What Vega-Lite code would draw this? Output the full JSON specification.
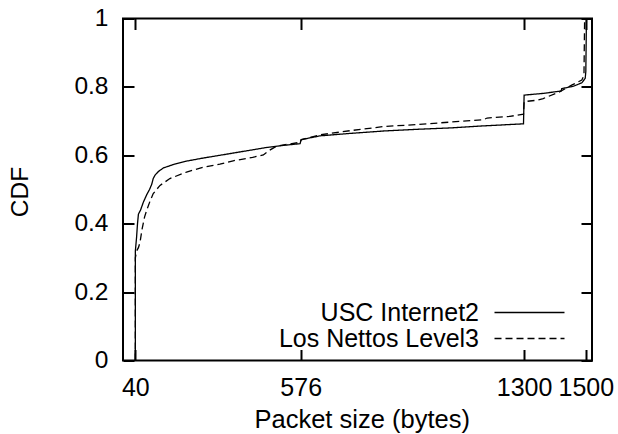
{
  "$schema": "https://vega.github.io/schema/vega-lite/v6.json",
  "width": 469,
  "height": 342,
  "autosize": {"type": "none"},
  "padding": {"left": 123, "top": 18.5, "right": 26, "bottom": 73},
  "background": "white",
  "config": {
    "view": {"stroke": "black", "strokeWidth": 2},
    "font": "Liberation Sans"
  },
  "data": {
    "values": [
      {"series": "USC Internet2", "i": 1, "size": 40, "cdf": 0},
      {"series": "USC Internet2", "i": 2, "size": 40, "cdf": 0.32},
      {"series": "USC Internet2", "i": 3, "size": 44, "cdf": 0.36},
      {"series": "USC Internet2", "i": 4, "size": 47, "cdf": 0.40},
      {"series": "USC Internet2", "i": 5, "size": 50, "cdf": 0.428},
      {"series": "USC Internet2", "i": 6, "size": 57, "cdf": 0.44},
      {"series": "USC Internet2", "i": 7, "size": 66, "cdf": 0.463},
      {"series": "USC Internet2", "i": 8, "size": 77, "cdf": 0.485},
      {"series": "USC Internet2", "i": 9, "size": 86, "cdf": 0.50},
      {"series": "USC Internet2", "i": 10, "size": 93, "cdf": 0.515},
      {"series": "USC Internet2", "i": 11, "size": 98, "cdf": 0.532},
      {"series": "USC Internet2", "i": 12, "size": 104, "cdf": 0.542},
      {"series": "USC Internet2", "i": 13, "size": 115, "cdf": 0.553},
      {"series": "USC Internet2", "i": 14, "size": 131, "cdf": 0.563},
      {"series": "USC Internet2", "i": 15, "size": 163, "cdf": 0.573},
      {"series": "USC Internet2", "i": 16, "size": 206, "cdf": 0.583},
      {"series": "USC Internet2", "i": 17, "size": 260, "cdf": 0.592},
      {"series": "USC Internet2", "i": 18, "size": 314, "cdf": 0.600},
      {"series": "USC Internet2", "i": 19, "size": 360, "cdf": 0.607},
      {"series": "USC Internet2", "i": 20, "size": 420, "cdf": 0.616},
      {"series": "USC Internet2", "i": 21, "size": 466, "cdf": 0.623},
      {"series": "USC Internet2", "i": 22, "size": 530, "cdf": 0.630},
      {"series": "USC Internet2", "i": 23, "size": 574, "cdf": 0.634},
      {"series": "USC Internet2", "i": 24, "size": 577, "cdf": 0.645},
      {"series": "USC Internet2", "i": 25, "size": 600, "cdf": 0.650},
      {"series": "USC Internet2", "i": 26, "size": 640, "cdf": 0.657},
      {"series": "USC Internet2", "i": 27, "size": 736, "cdf": 0.664},
      {"series": "USC Internet2", "i": 28, "size": 844, "cdf": 0.671},
      {"series": "USC Internet2", "i": 29, "size": 952, "cdf": 0.676},
      {"series": "USC Internet2", "i": 30, "size": 1060, "cdf": 0.680},
      {"series": "USC Internet2", "i": 31, "size": 1168, "cdf": 0.686},
      {"series": "USC Internet2", "i": 32, "size": 1298, "cdf": 0.692},
      {"series": "USC Internet2", "i": 33, "size": 1300, "cdf": 0.776},
      {"series": "USC Internet2", "i": 34, "size": 1362, "cdf": 0.781},
      {"series": "USC Internet2", "i": 35, "size": 1420, "cdf": 0.788},
      {"series": "USC Internet2", "i": 36, "size": 1422, "cdf": 0.795},
      {"series": "USC Internet2", "i": 37, "size": 1460, "cdf": 0.802},
      {"series": "USC Internet2", "i": 38, "size": 1487, "cdf": 0.812},
      {"series": "USC Internet2", "i": 39, "size": 1498, "cdf": 0.825},
      {"series": "USC Internet2", "i": 40, "size": 1500, "cdf": 0.845},
      {"series": "USC Internet2", "i": 41, "size": 1502, "cdf": 1.0},
      {"series": "Los Nettos Level3", "i": 1, "size": 40, "cdf": 0},
      {"series": "Los Nettos Level3", "i": 2, "size": 40, "cdf": 0.30},
      {"series": "Los Nettos Level3", "i": 3, "size": 44, "cdf": 0.32},
      {"series": "Los Nettos Level3", "i": 4, "size": 50, "cdf": 0.33},
      {"series": "Los Nettos Level3", "i": 5, "size": 55, "cdf": 0.345},
      {"series": "Los Nettos Level3", "i": 6, "size": 62, "cdf": 0.385},
      {"series": "Los Nettos Level3", "i": 7, "size": 70, "cdf": 0.42},
      {"series": "Los Nettos Level3", "i": 8, "size": 77, "cdf": 0.44},
      {"series": "Los Nettos Level3", "i": 9, "size": 88, "cdf": 0.467},
      {"series": "Los Nettos Level3", "i": 10, "size": 98, "cdf": 0.488},
      {"series": "Los Nettos Level3", "i": 11, "size": 120, "cdf": 0.512},
      {"series": "Los Nettos Level3", "i": 12, "size": 152, "cdf": 0.532},
      {"series": "Los Nettos Level3", "i": 13, "size": 206, "cdf": 0.551},
      {"series": "Los Nettos Level3", "i": 14, "size": 260, "cdf": 0.565},
      {"series": "Los Nettos Level3", "i": 15, "size": 314, "cdf": 0.574},
      {"series": "Los Nettos Level3", "i": 16, "size": 357, "cdf": 0.584},
      {"series": "Los Nettos Level3", "i": 17, "size": 420, "cdf": 0.594},
      {"series": "Los Nettos Level3", "i": 18, "size": 455, "cdf": 0.601},
      {"series": "Los Nettos Level3", "i": 19, "size": 470, "cdf": 0.612},
      {"series": "Los Nettos Level3", "i": 20, "size": 498, "cdf": 0.627},
      {"series": "Los Nettos Level3", "i": 21, "size": 540, "cdf": 0.633},
      {"series": "Los Nettos Level3", "i": 22, "size": 574, "cdf": 0.638},
      {"series": "Los Nettos Level3", "i": 23, "size": 578, "cdf": 0.646},
      {"series": "Los Nettos Level3", "i": 24, "size": 640, "cdf": 0.660},
      {"series": "Los Nettos Level3", "i": 25, "size": 736, "cdf": 0.672},
      {"series": "Los Nettos Level3", "i": 26, "size": 844, "cdf": 0.684},
      {"series": "Los Nettos Level3", "i": 27, "size": 952, "cdf": 0.690},
      {"series": "Los Nettos Level3", "i": 28, "size": 1060, "cdf": 0.697},
      {"series": "Los Nettos Level3", "i": 29, "size": 1168, "cdf": 0.704},
      {"series": "Los Nettos Level3", "i": 30, "size": 1180, "cdf": 0.709},
      {"series": "Los Nettos Level3", "i": 31, "size": 1254, "cdf": 0.714},
      {"series": "Los Nettos Level3", "i": 32, "size": 1298, "cdf": 0.720},
      {"series": "Los Nettos Level3", "i": 33, "size": 1300, "cdf": 0.757},
      {"series": "Los Nettos Level3", "i": 34, "size": 1341, "cdf": 0.761},
      {"series": "Los Nettos Level3", "i": 35, "size": 1362, "cdf": 0.766},
      {"series": "Los Nettos Level3", "i": 36, "size": 1416, "cdf": 0.786},
      {"series": "Los Nettos Level3", "i": 37, "size": 1454, "cdf": 0.805},
      {"series": "Los Nettos Level3", "i": 38, "size": 1487, "cdf": 0.820},
      {"series": "Los Nettos Level3", "i": 39, "size": 1494, "cdf": 0.834},
      {"series": "Los Nettos Level3", "i": 40, "size": 1496, "cdf": 0.99},
      {"series": "Los Nettos Level3", "i": 41, "size": 1502, "cdf": 1.0}
    ]
  },
  "layer": [
    {
      "mark": {"type": "line", "color": "black", "strokeWidth": 1.3},
      "encoding": {
        "x": {
          "field": "size", "type": "quantitative",
          "scale": {"domain": [0, 1520], "nice": false, "zero": false},
          "axis": {
            "orient": "bottom", "values": [40, 576, 1300, 1500], "format": "d",
            "domain": false, "grid": false,
            "tickSize": -11, "tickWidth": 2, "tickColor": "black",
            "labelFont": "Liberation Sans", "labelFontSize": 25, "labelColor": "black",
            "labelPadding": 45.6, "labelBaseline": "alphabetic",
            "labelFlush": false, "labelOverlap": false,
            "title": "Packet size (bytes)", "titleFont": "Liberation Sans",
            "titleFontSize": 25.5, "titleFontWeight": "normal", "titleColor": "black",
            "titleX": 238.7, "titleY": 67.3, "titleBaseline": "alphabetic", "titleAlign": "center"
          }
        },
        "y": {
          "field": "cdf", "type": "quantitative",
          "scale": {"domain": [0, 1], "nice": false},
          "axis": {
            "orient": "left", "values": [0, 0.2, 0.4, 0.6, 0.8, 1], "format": "~g",
            "domain": false, "grid": false,
            "tickSize": -11, "tickWidth": 2, "tickColor": "black",
            "labelFont": "Liberation Sans", "labelFontSize": 24.5, "labelColor": "black",
            "labelPadding": 26, "labelFlush": false, "labelOverlap": false,
            "title": "CDF", "titleFont": "Liberation Sans",
            "titleFontSize": 24.5, "titleFontWeight": "normal", "titleColor": "black",
            "titleX": -96, "titleY": 173, "titleBaseline": "alphabetic", "titleAlign": "center", "titleAngle": -90
          }
        },
        "strokeDash": {
          "field": "series", "type": "nominal",
          "scale": {"domain": ["USC Internet2", "Los Nettos Level3"], "range": [[1, 0], [7, 4]]},
          "legend": {
            "orient": "none", "legendX": 370, "legendY": 281.5,
            "title": null, "padding": 0,
            "symbolType": "M-5,0L5,0", "symbolSize": 196,
            "symbolStrokeWidth": 1.3, "symbolStrokeColor": "black",
            "symbolOffset": 24,
            "labelAlign": "right", "labelOffset": -63,
            "labelFont": "Liberation Sans", "labelFontSize": 25, "labelColor": "black",
            "labelLimit": 0, "rowPadding": 0
          }
        },
        "order": {"field": "i", "type": "quantitative"}
      }
    },
    {
      "mark": {"type": "point", "opacity": 0},
      "encoding": {
        "x": {
          "field": "size", "type": "quantitative",
          "scale": {"domain": [0, 1520], "nice": false, "zero": false},
          "axis": {
            "orient": "top", "values": [40, 576, 1300, 1500], "labels": false,
            "domain": false, "grid": false,
            "tickSize": -11, "tickWidth": 2, "tickColor": "black", "title": null
          }
        },
        "y": {
          "field": "cdf", "type": "quantitative",
          "scale": {"domain": [0, 1], "nice": false},
          "axis": {
            "orient": "right", "values": [0, 0.2, 0.4, 0.6, 0.8, 1], "labels": false,
            "domain": false, "grid": false,
            "tickSize": -11, "tickWidth": 2, "tickColor": "black", "title": null
          }
        }
      }
    }
  ],
  "resolve": {"axis": {"x": "independent", "y": "independent"}}
}
